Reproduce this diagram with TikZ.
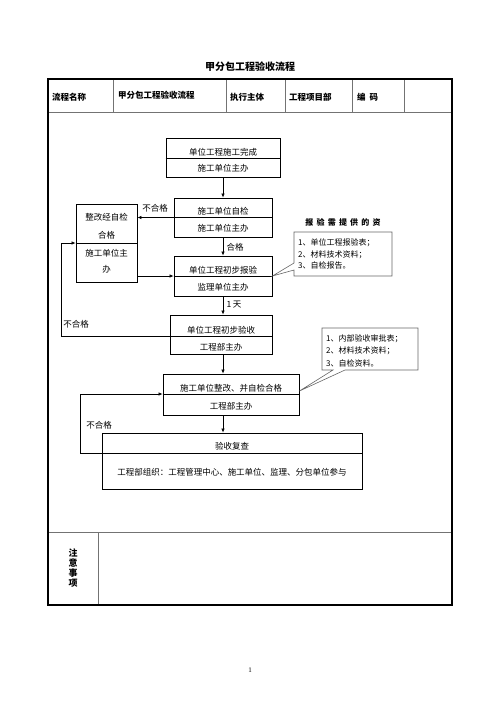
\documentclass[tikz,border=0pt]{standalone}
\usepackage{fontspec}
\setmainfont{Noto Sans CJK SC}
\newfontfamily\numfont{Liberation Serif}
\usetikzlibrary{arrows.meta}

\begin{document}
\begin{tikzpicture}[x=1pt,y=-1pt]
        \tikzstyle{every node}=[inner sep=0pt,font=\fontsize{8.5}{10}\selectfont]
        \tikzstyle{flowbox}=[draw,line width=0.9pt]
        \tikzstyle{head}=[anchor=west,font=\fontsize{8.5}{10}\selectfont\bfseries]
        \tikzstyle{link}=[line width=0.6pt,-{Latex[length=4pt,width=3.5pt]}]
        \tikzstyle{tips}=[draw=black!60,line width=0.6pt]
        \useasboundingbox (0,0) rectangle (500,707);

            % title and table
            \node (biaoti) at (250,67) {\fontsize{10}{12}\selectfont\bfseries 甲分包工程验收流程};
            \draw[black!55,line width=0.6pt] (48,112) -- (452,112)
            (113,79) -- (113,112) (226,79) -- (226,112) (285,79) -- (285,112)
            (352,79) -- (352,112) (404,79) -- (404,112)
            (48,532) -- (452,532) (98,532) -- (98,605);
            \draw[line width=1.6pt] (48,79) rectangle (452,605);
            \node[head] (mingcheng) at (52,97) {流程名称};
            \node[head] (liucheng) at (118,95) {甲分包工程验收流程};
            \node[head] (zhuti) at (230,97) {执行主体};
            \node[head] (xiangmu) at (289,97) {工程项目部};
            \node[head] (bianma) at (357,97) {编\ \ 码};
            \node[align=center,font=\fontsize{9}{10}\selectfont\bfseries] (zhuyi) at (73,568) {注\\意\\事\\项};
            \node[font=\fontsize{7}{8}\selectfont\numfont] (yema) at (250,670) {1};

            % flow boxes
            \node[flowbox,minimum width=114pt,minimum height=39pt] (wancheng) at (223,157.5) {};
            \node (wancheng1) at (223,152) {单位工程施工完成};
            \node (wancheng2) at (223,168.5) {施工单位主办};
            \draw (wancheng.west |- 0,158) -- (wancheng.east |- 0,158);

            \node[flowbox,minimum width=98pt,minimum height=39pt] (zijian) at (223,217.5) {};
            \node (zijian1) at (223,211) {施工单位自检};
            \node (zijian2) at (223,228) {施工单位主办};
            \draw (zijian.west |- 0,217) -- (zijian.east |- 0,217);

            \node[flowbox,minimum width=61pt,minimum height=78pt] (zhenggai) at (106.5,243) {};
            \node (zhenggai1) at (106.5,217) {整改经自检};
            \node (zhenggai2) at (106.5,235) {合格};
            \node (zhenggai3) at (106.5,253) {施工单位主};
            \node (zhenggai4) at (106.5,269) {办};
            \draw (zhenggai.west |- 0,243) -- (zhenggai.east |- 0,243);

            \node[flowbox,minimum width=98pt,minimum height=40pt] (baoyan) at (223,276) {};
            \node (baoyan1) at (223,270.5) {单位工程初步报验};
            \node (baoyan2) at (223,287) {监理单位主办};
            \draw (baoyan.west |- 0,276) -- (baoyan.east |- 0,276);

            \node[flowbox,minimum width=102pt,minimum height=39pt] (chuyan) at (221,334.5) {};
            \node (chuyan1) at (221,330.5) {单位工程初步验收};
            \node (chuyan2) at (221,347) {工程部主办};

            \node[flowbox,minimum width=136pt,minimum height=41pt] (zhenggai5) at (231,394.5) {};
            \node (zhenggai51) at (231,388.5) {施工单位整改、并自检合格};
            \node (zhenggai52) at (231,406.5) {工程部主办};
            \draw (zhenggai5.west |- 0,394) -- (zhenggai5.east |- 0,394);

            \node[flowbox,minimum width=260pt,minimum height=56pt] (fucha) at (232,461) {};
            \node (fucha1) at (232,446) {验收复查};
            \node (fucha2) at (232,472) {工程部组织：工程管理中心、施工单位、监理、分包单位参与};

            % connectors
            \draw[link] (wancheng.south) -- (wancheng.south |- zijian.north);
            \draw[link] (zijian.south) -- (zijian.south |- baoyan.north);
            \draw[link] (baoyan.south) -- (baoyan.south |- chuyan.north);
            \draw[link] (chuyan.south -| baoyan.south) -- (zhenggai5.north -| baoyan.south);
            \draw[link] (zhenggai5.south -| baoyan.south) -- (fucha.north -| baoyan.south);
            \draw[link] (zijian.west) -- (zhenggai.east |- zijian.west);
            \draw[link] (zhenggai.east |- 0,276) -- (baoyan.west);
            \draw[link] (chuyan.east |- 0,336) -- (61,336) -- (61,243) -- (zhenggai.west |- 0,243);
            \draw[link] (fucha.east |- 0,453) -- (80,453) -- (80,394) -- (zhenggai5.west |- 0,394);

            \node (buhege1) at (155,208) {不合格};
            \node (hege) at (235,247) {合格};
            \node (yitian) at (234,305) {1\,天};
            \node (buhege2) at (76,324) {不合格};
            \node (buhege3) at (99,425) {不合格};

            % notes
            \draw[tips] (294,232) -- (392,232) -- (392,276) -- (294,276) -- (294,270)
            -- (baoyan.east |- 0,276) -- (294,263) -- cycle;
            \node[font=\fontsize{8}{10}\selectfont\bfseries\addfontfeature{LetterSpace=40}] (ziliao) at (343,222) {报验需提供的资};
            \node[anchor=west,align=left,font=\fontsize{8}{11.5}\selectfont] (ziliao1) at (298,254) {1、单位工程报验表；\\2、材料技术资料；\\3、自检报告。};

            \draw[tips] (322,328) -- (418,328) -- (418,370) -- (345,370)
            -- (zhenggai5.east |- 0,391) -- (333,370) -- (322,370) -- cycle;
            \node[anchor=west,align=left,font=\fontsize{8}{12.5}\selectfont] (ziliao2) at (326,350.5) {1、内部验收审批表；\\2、材料技术资料；\\3、自检资料。};
        \end{tikzpicture}
\end{document}
